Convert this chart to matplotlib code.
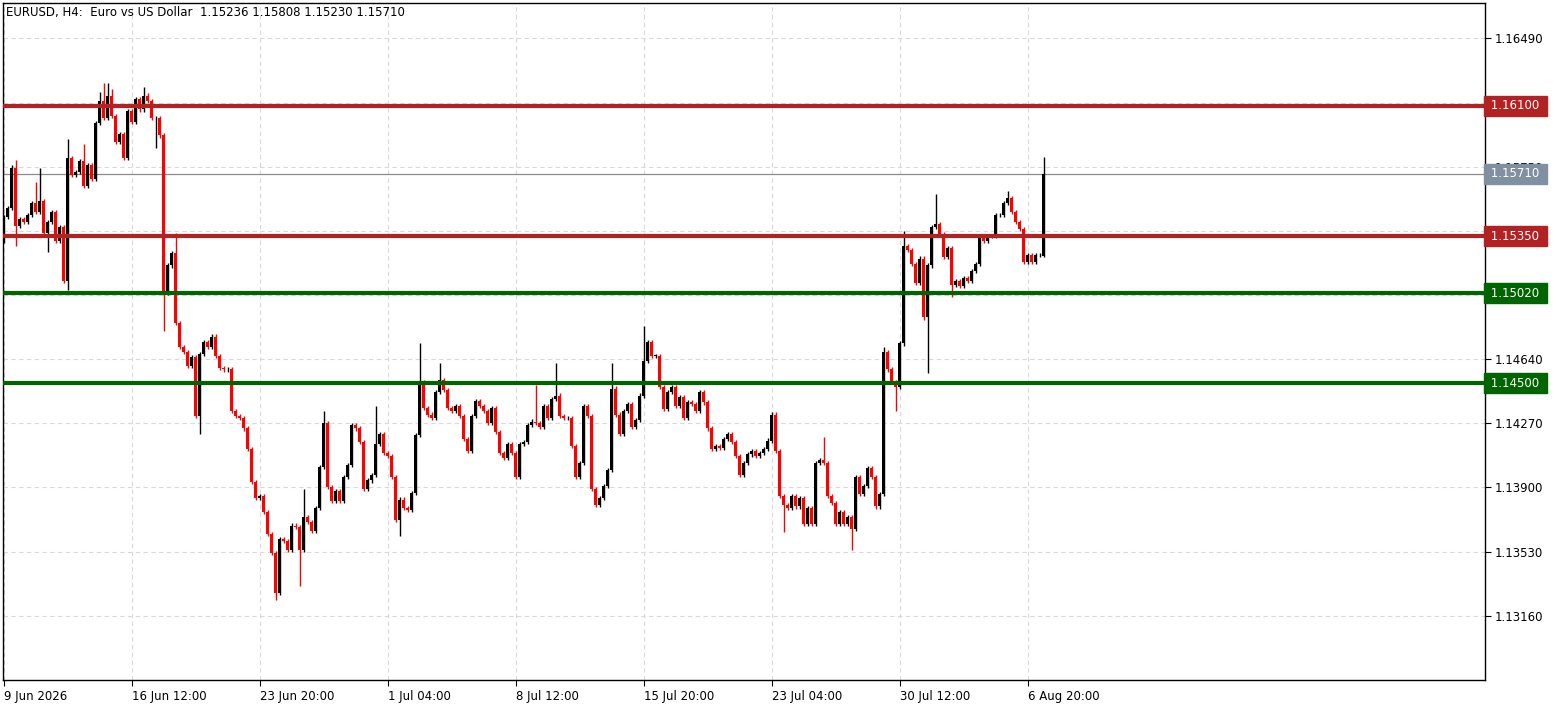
import numpy as np
import matplotlib.pyplot as plt

# closes in pips above 1.1000 (open = previous close)
first_open = 532
closes = [546, 551, 574, 541, 545, 543, 547, 554, 549, 555, 537, 543, 549, 532, 540, 509, 580, 570, 572, 578,
          564, 576, 568, 600, 613, 603, 616, 604, 589, 594, 580, 607, 601, 614, 608, 616, 613, 603, 603, 593,
          502, 518, 525, 485, 471, 468, 460, 465, 431, 467, 474, 471, 477, 466, 459, 458, 458, 434, 431, 430,
          424, 412, 393, 384, 385, 376, 363, 352, 329, 360, 359, 354, 368, 367, 354, 373, 370, 365, 378, 402,
          427, 390, 382, 388, 382, 396, 403, 426, 424, 416, 389, 394, 397, 415, 421, 410, 408, 396, 371, 383,
          378, 377, 387, 420, 451, 436, 432, 430, 445, 452, 446, 436, 434, 437, 431, 418, 411, 431, 440, 437,
          434, 427, 436, 422, 410, 407, 415, 410, 396, 415, 416, 426, 428, 427, 425, 437, 430, 441, 443, 431,
          430, 430, 414, 396, 404, 437, 431, 389, 380, 384, 391, 400, 447, 432, 421, 434, 438, 425, 429, 443,
          463, 474, 466, 466, 448, 435, 445, 448, 437, 442, 430, 439, 438, 434, 445, 439, 424, 412, 414, 413,
          418, 421, 416, 408, 397, 404, 409, 411, 408, 410, 412, 417, 432, 411, 385, 380, 378, 385, 379, 384,
          369, 378, 369, 404, 406, 404, 385, 381, 369, 376, 369, 373, 366, 396, 386, 391, 401, 396, 379, 386,
          468, 458, 451, 448, 473, 529, 527, 519, 508, 522, 488, 518, 540, 542, 536, 523, 528, 507, 509, 506,
          511, 509, 515, 519, 535, 532, 535, 535, 547, 547, 554, 557, 549, 543, 539, 520, 524, 520, 524, 524,
          571]
# notable wick extremes (bar index: pips)
wick_highs = {2: 576, 3: 579, 8: 566, 9: 574, 16: 591, 20: 588, 24: 618, 25: 623, 26: 623, 27: 620, 35: 621,
              43: 537, 75: 389, 80: 434, 93: 437, 104: 473, 109: 462, 133: 449, 138: 462, 152: 462, 160: 483,
              205: 419, 220: 471, 225: 538, 233: 559, 251: 561}
wick_lows = {3: 529, 11: 526, 16: 504, 38: 586, 40: 480, 49: 421, 68: 325, 74: 333, 99: 362, 195: 364,
             212: 354, 223: 434, 231: 456, 237: 500}
last_ohlc = [1.15236, 1.15808, 1.15230, 1.15710]
tick_text = ["9 Jun 2026", "16 Jun 12:00", "23 Jun 20:00", "1 Jul 04:00", "8 Jul 12:00",
             "15 Jul 20:00", "23 Jul 04:00", "30 Jul 12:00", "6 Aug 20:00"]
red_levels = [1.16100, 1.15350]
green_levels = [1.15020, 1.14500]
last_price = 1.15710
title = "EURUSD, H4:  Euro vs US Dollar  1.15236 1.15808 1.15230 1.15710"

c = 1.1 + np.array(closes, dtype=float) / 10000
o = np.concatenate([[1.1 + first_open / 10000], c[:-1]])
o[-1], c[-1] = last_ohlc[0], last_ohlc[3]
hi = np.maximum(o, c) + 0.00012
lo = np.minimum(o, c) - 0.00012
for k, v in wick_highs.items():
    hi[k] = 1.1 + v / 10000
for k, v in wick_lows.items():
    lo[k] = 1.1 + v / 10000
hi[-1], lo[-1] = last_ohlc[1], last_ohlc[2]
x = np.arange(len(c))
up = c >= o

fig = plt.figure(figsize=(15.63, 7.06), dpi=100)
ax = fig.add_axes([3 / 1563, 26 / 706, 1482 / 1563, 677 / 706])
ax.set_xlim(-0.2, 370.3)
ax.set_ylim(1.12789, 1.16694)

yt = 1.13160 + 0.0037 * np.arange(10)
hidden = [1.15010, 1.15380, 1.16120]
ax.set_yticks(yt)
ax.set_xticks(np.arange(0, 257, 32))
ax.grid(True, color='#d9d9d9', linestyle=(0, (4, 3)), linewidth=0.8)
ax.set_axisbelow(True)

cols = np.where(up, 'black', '#ff0000')
ax.vlines(x, lo, hi, colors=cols, linewidth=1.0, zorder=2)
body = np.maximum(np.abs(c - o), 0.00003)
ax.bar(x, body, bottom=np.minimum(o, c), width=0.75, color=cols, linewidth=0, zorder=3)

ax.axhline(last_price, color='#8c8c8c', linewidth=0.9, zorder=1)
for lv in red_levels:
    ax.axhline(lv, color='#b22222', linewidth=3, zorder=4)
for lv in green_levels:
    ax.axhline(lv, color='#006400', linewidth=3, zorder=4)

ax.yaxis.tick_right()
ax.set_yticklabels(["" if any(abs(v - h) < 1e-7 for h in hidden) else f"{v:.5f}" for v in yt], fontsize=8.5)
ax.set_xticklabels(tick_text, fontsize=8.5, ha='left')
ax.tick_params(axis='both', length=4, color='black', pad=3)
for s in ax.spines.values():
    s.set_color('black')
    s.set_linewidth(1)

for lv, col in [(red_levels[0], '#b22222'), (red_levels[1], '#b22222'),
                (green_levels[0], '#006400'), (green_levels[1], '#006400'), (last_price, '#8090a0')]:
    ax.text(1.0015, lv, f" {lv:.5f} ", transform=ax.get_yaxis_transform(), color='white', fontsize=8.5,
            va='center', ha='left', zorder=6, clip_on=False,
            bbox=dict(boxstyle='square,pad=0.3', facecolor=col, edgecolor=col))

ax.text(0.002, 0.995, title, transform=ax.transAxes, fontsize=8.5, va='top', ha='left')

fig.savefig('out.png', dpi=100)
